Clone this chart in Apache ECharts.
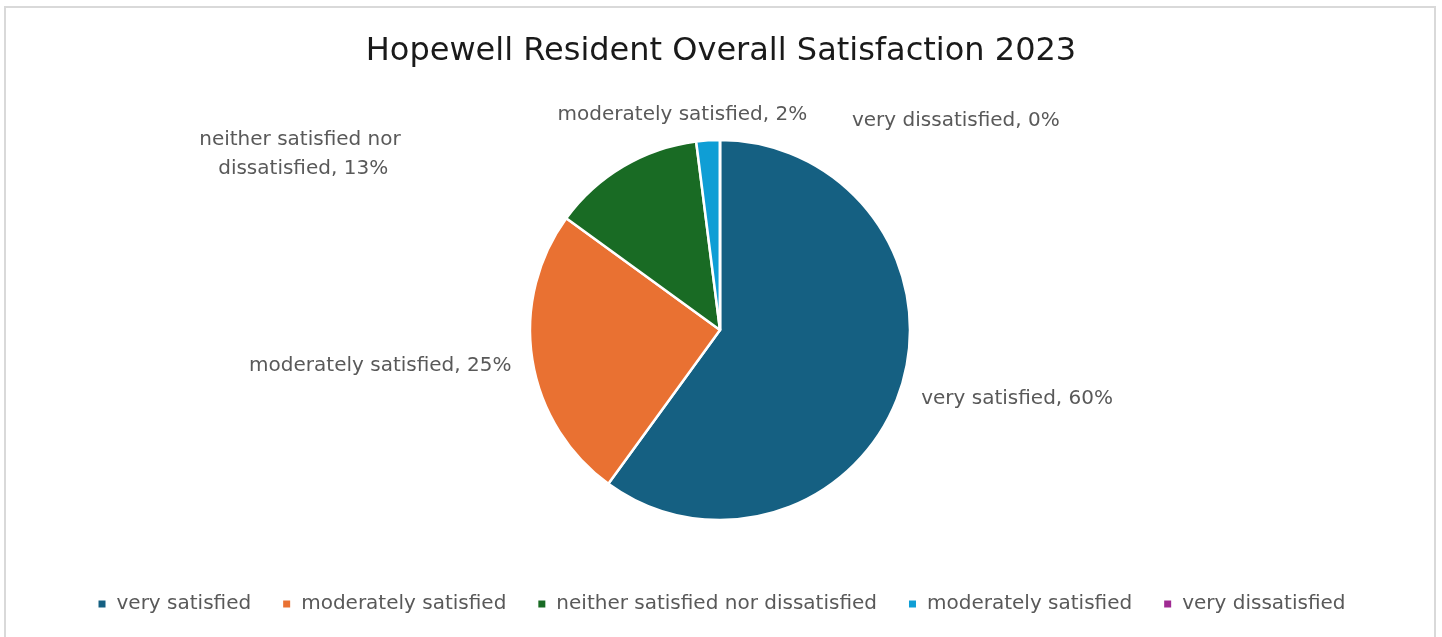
<!DOCTYPE html>
<html>
<head>
<meta charset="utf-8">
<script src="https://cdn.jsdelivr.net/npm/echarts@6/dist/echarts.min.js"></script>
<style>
  html, body { margin: 0; padding: 0; background: #fff; }
  #chart { width: 1442px; height: 637px; }
  .frame { position: absolute; left: 4px; top: 6px; width: 1428px; height: 640px;
           border: 2px solid #d9d9d9; pointer-events: none; }
</style>
</head>
<body>
<div id="chart"></div>
<div class="frame"></div>
<script>
// 数据
var categories = ['very satisfied', 'moderately satisfied', 'neither satisfied nor dissatisfied', 'moderately satisfied', 'very dissatisfied'];
var values = [60, 25, 13, 2, 0];
var colors = ['#156082', '#E97132', '#196B24', '#0F9ED5', '#A02B93'];

// 标签微调 (dx, dy, align)
var labelNudge = [
  { dx: -4, dy: 7 },
  { dx: 4, dy: 4 },
  { dx: -300, dy: -4, align: 'center' },
  { dx: -10, dy: -16, align: 'center' },
  { dx: 147, dy: -9, align: 'left' }
];

var font = 'DejaVu Sans';
var pieData = [];
for (var i = 0; i < categories.length; i++) {
  // 名称重复时图例会合并，这里加序号区分
  var item = { name: categories[i] + '#' + i, value: values[i], itemStyle: { color: colors[i] } };
  if (i === 2) {
    item.label = { width: 230, overflow: 'break', lineHeight: 29 };
  }
  pieData.push(item);
}

function cleanName(n) { return n.split('#')[0]; }

var myChart = echarts.init(document.getElementById('chart'));
myChart.setOption({
  animation: false,
  title: {
    text: 'Hopewell Resident Overall Satisfaction 2023',
    left: 'center',
    top: 31,
    textStyle: { fontFamily: font, fontSize: 32, fontWeight: 'normal', color: '#1a1a1a' }
  },
  legend: {
    bottom: 18,
    left: 'center',
    itemWidth: 9,
    itemHeight: 9,
    itemGap: 30,
    icon: 'rect',
    textStyle: { fontFamily: font, fontSize: 20, color: '#595959', padding: [0, 0, 0, 5] },
    formatter: cleanName,
    data: pieData.map(function (d) { return { name: d.name }; })
  },
  series: [{
    type: 'pie',
    center: [720, 330],
    radius: 190,
    startAngle: 90,
    clockwise: true,
    minAngle: 0.01,
    avoidLabelOverlap: false,
    itemStyle: { borderColor: '#fff', borderWidth: 2.5 },
    label: {
      show: true,
      position: 'outside',
      fontFamily: font,
      fontSize: 20,
      color: '#595959',
      formatter: function (p) { return cleanName(p.name) + ', ' + Math.round(p.percent) + '%'; }
    },
    labelLine: { show: false, length: 10, length2: 10 },
    labelLayout: function (p) {
      var n = labelNudge[p.dataIndex];
      var r = { dx: n.dx, dy: n.dy };
      if (n.align) r.align = n.align;
      return r;
    },
    data: pieData
  }]
});
</script>
</body>
</html>
